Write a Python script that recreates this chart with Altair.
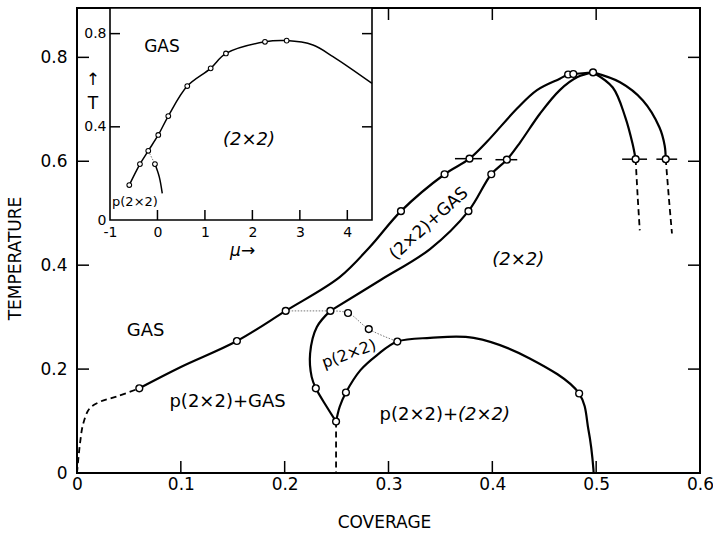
import altair as alt
import pandas as pd

FONT = "DejaVu Sans"

# ---------------- main diagram: coverage vs temperature ----------------
gas_dash_cov = [0.0, 0.0029, 0.006, 0.012, 0.022, 0.038, 0.060]
gas_dash_T = [0.0, 0.057, 0.095, 0.124, 0.137, 0.147, 0.163]

upper_cov = [0.060, 0.100, 0.154, 0.201, 0.253, 0.282, 0.312, 0.354, 0.378, 0.395,
             0.424, 0.443, 0.465, 0.473, 0.478, 0.497]
upper_T = [0.163, 0.204, 0.254, 0.312, 0.377, 0.435, 0.504, 0.575, 0.605, 0.638,
           0.702, 0.737, 0.759, 0.767, 0.768, 0.771]

lower_cov = [0.244, 0.292, 0.340, 0.377, 0.399, 0.414, 0.427, 0.446, 0.465, 0.482, 0.497]
lower_T = [0.312, 0.371, 0.431, 0.504, 0.575, 0.603, 0.637, 0.692, 0.737, 0.762, 0.771]

lobe_left_cov = [0.244, 0.231, 0.2245, 0.226, 0.230, 0.2405, 0.2495]
lobe_left_T = [0.312, 0.281, 0.230, 0.185, 0.163, 0.1275, 0.099]

lobe_dash_cov = [0.2495, 0.2495]
lobe_dash_T = [0.099, 0.0]

dome_cov = [0.2495, 0.253, 0.259, 0.273, 0.289, 0.3085, 0.340, 0.382, 0.436, 0.4836,
            0.4926, 0.4974, 0.4975]
dome_T = [0.099, 0.1275, 0.155, 0.198, 0.227, 0.253, 0.260, 0.260, 0.2205, 0.153,
          0.0827, 0.006, 0.0]

inner_cov = [0.497, 0.516, 0.528, 0.535, 0.538]
inner_T = [0.771, 0.742, 0.685, 0.634, 0.604]
inner_dash_cov = [0.538, 0.540, 0.542]
inner_dash_T = [0.604, 0.531, 0.467]

outer_cov = [0.497, 0.523, 0.545, 0.561, 0.566, 0.567]
outer_T = [0.771, 0.752, 0.717, 0.665, 0.630, 0.604]
outer_dash_cov = [0.567, 0.570, 0.573]
outer_dash_T = [0.604, 0.530, 0.461]

dot_a_cov = [0.201, 0.244]
dot_a_T = [0.312, 0.312]
dot_b_cov = [0.244, 0.261, 0.281, 0.3085]
dot_b_T = [0.312, 0.308, 0.277, 0.253]

pts_cov = [0.060, 0.154, 0.201, 0.244, 0.261, 0.281, 0.3085, 0.230, 0.2495, 0.259,
           0.4836, 0.312, 0.354, 0.378, 0.377, 0.399, 0.414, 0.473, 0.478, 0.497,
           0.538, 0.567]
pts_T = [0.163, 0.254, 0.312, 0.312, 0.308, 0.277, 0.253, 0.163, 0.099, 0.155,
         0.153, 0.504, 0.575, 0.605, 0.504, 0.575, 0.603, 0.767, 0.768, 0.771,
         0.604, 0.604]

bar_T = [0.605, 0.603, 0.604, 0.604]
bar_lo = [0.364, 0.403, 0.525, 0.558]
bar_hi = [0.390, 0.424, 0.549, 0.578]

main_xticks_bottom = [0.1, 0.2, 0.3, 0.4, 0.5]
main_xticks_top = [0.3, 0.4, 0.5]
main_yticks = [0.2, 0.4, 0.6, 0.8]
main_xlabels = [0, 0.1, 0.2, 0.3, 0.4, 0.5, 0.6]
main_ylabels = [0, 0.2, 0.4, 0.6, 0.8]

# region labels
txt_plain = ["GAS", "p(2×2)+GAS"]
txt_plain_cov = [0.066, 0.145]
txt_plain_T = [0.273, 0.137]
txt_mix_a = ["p(2×2)+"]
txt_mix_b = ["(2×2)"]
txt_mix_cov = [0.367]
txt_mix_T = [0.1115]
txt_ital = ["(2×2)"]
txt_ital_cov = [0.425]
txt_ital_T = [0.41]
txt_band = ["(2×2)+GAS"]
txt_band_cov = [0.339]
txt_band_T = [0.480]
txt_lobe = ["p(2×2)"]
txt_lobe_cov = [0.262]
txt_lobe_T = [0.229]

# ---------------- inset: chemical potential vs temperature ----------------
in_curve_mu = [-0.594, -0.369, -0.194, 0.017, 0.228, 0.628, 1.121, 1.443, 2.265, 2.722,
               3.276, 3.698, 4.52]
in_curve_T = [0.150, 0.240, 0.297, 0.365, 0.446, 0.575, 0.651, 0.715, 0.765, 0.770,
              0.751, 0.701, 0.586]
in_branch_mu = [-0.053, 0.038, 0.101]
in_branch_T = [0.240, 0.185, 0.114]
in_dot_mu = [-0.194, -0.053]
in_dot_T = [0.297, 0.240]
in_pts_mu = [-0.594, -0.369, -0.194, 0.017, 0.228, 0.628, 1.121, 1.443, 2.265, 2.722, -0.053]
in_pts_T = [0.150, 0.240, 0.297, 0.365, 0.446, 0.575, 0.651, 0.715, 0.765, 0.770, 0.240]

in_xticks = [0, 1, 2, 3, 4]
in_yticks = [0.4, 0.8]
in_xlabels = [-1, 0, 1, 2, 3, 4]
in_ylabels = [0, 0.4, 0.8]
in_frame = dict(x0=[-1.0], x1=[4.52], y0=[0.0], y1=[0.91])

in_txt_plain = ["GAS"]
in_txt_plain_mu = [0.095]
in_txt_plain_T = [0.742]
in_txt_ital = ["(2×2)"]
in_txt_ital_mu = [1.93]
in_txt_ital_T = [0.343]
in_txt_small = ["p(2×2)"]
in_txt_small_mu = [-0.474]
in_txt_small_T = [0.077]
in_txt_arrow = ["↑", "T"]
in_txt_arrow_mu = [-1.36, -1.36]
in_txt_arrow_T = [0.60, 0.50]
in_txt_mu = ["μ→"]
in_txt_mu_mu = [1.53]
in_txt_mu_T = [-0.135]

# ---------------- geometry ----------------
W, H = 623, 465
TICK = 12
IN_XR = [33, 295]
IN_YR = [212, 0]
IN_TICK = 10

# ---------------- tables ----------------
def seg_rows(name, style, xs, ys):
    return [dict(seg=name, style=style, i=k, x=a, y=b) for k, (a, b) in enumerate(zip(xs, ys))]

main_lines = pd.DataFrame(
    seg_rows("gasd", "dash", gas_dash_cov, gas_dash_T)
    + seg_rows("up", "solid", upper_cov, upper_T)
    + seg_rows("low", "solid", lower_cov, lower_T)
    + seg_rows("lobl", "solid", lobe_left_cov, lobe_left_T)
    + seg_rows("lobd", "dash", lobe_dash_cov, lobe_dash_T)
    + seg_rows("dome", "solid", dome_cov, dome_T)
    + seg_rows("inn", "solid", inner_cov, inner_T)
    + seg_rows("innd", "dash", inner_dash_cov, inner_dash_T)
    + seg_rows("out", "solid", outer_cov, outer_T)
    + seg_rows("outd", "dash", outer_dash_cov, outer_dash_T)
    + seg_rows("dota", "dot", dot_a_cov, dot_a_T)
    + seg_rows("dotb", "dot", dot_b_cov, dot_b_T)
)
main_pts = pd.DataFrame(dict(x=pts_cov, y=pts_T))
bars = pd.DataFrame(dict(lo=bar_lo, hi=bar_hi, y=bar_T))

in_lines = pd.DataFrame(
    seg_rows("c", "solid", in_curve_mu, in_curve_T)
    + seg_rows("b", "solid", in_branch_mu, in_branch_T)
    + seg_rows("d", "dot", in_dot_mu, in_dot_T)
)
in_pts = pd.DataFrame(dict(x=in_pts_mu, y=in_pts_T))

# ---------------- scales / axes ----------------
fmt1 = "datum.value == 0 ? '0' : format(datum.value, '.1f')"
XS = alt.Scale(domain=[0, 0.6], nice=False, zero=False)
YS = alt.Scale(domain=[0, 0.895], nice=False, zero=False)
XA = alt.Axis(values=main_xlabels, labelExpr=fmt1, ticks=False, domain=False, grid=False,
              labelPadding=3, labelFontSize=17, labelFont=FONT, labelColor="black",
              labelFlush=False, title="COVERAGE", titleFont=FONT, titleFontSize=17,
              titleFontWeight="normal", titleColor="black", titleX=307, titleY=49,
              titleBaseline="middle", titleAlign="center")
YA = alt.Axis(values=main_ylabels, labelExpr=fmt1, ticks=False, domain=False, grid=False,
              labelPadding=10, labelFontSize=17, labelFont=FONT, labelColor="black",
              labelFlush=False, title="TEMPERATURE", titleFont=FONT, titleFontSize=17,
              titleFontWeight="normal", titleColor="black", titleX=-62, titleY=250,
              titleAngle=270, titleBaseline="middle", titleAlign="center")


def mx(f):
    return alt.X(f, type="quantitative", scale=XS, axis=XA)


def my(f):
    return alt.Y(f, type="quantitative", scale=YS, axis=YA)


IXS = alt.Scale(domain=[-1, 4.52], range=IN_XR, nice=False, zero=False)
IYS = alt.Scale(domain=[0, 0.91], range=IN_YR, nice=False, zero=False)
IXA = alt.Axis(orient="bottom", offset=-(H - IN_YR[0]), values=in_xlabels,
               labelExpr="datum.value < 0 ? '-' + format(-datum.value, 'd') : format(datum.value, 'd')",
               ticks=False, domain=False, grid=False, labelPadding=5, labelFontSize=14,
               labelFont=FONT, labelColor="black", labelFlush=False, title=None)
IYA = alt.Axis(orient="left", offset=-IN_XR[0], values=in_ylabels, labelExpr=fmt1,
               ticks=False, domain=False, grid=False, labelPadding=4, labelFontSize=14,
               labelFont=FONT, labelColor="black", labelFlush=False, title=None)


def ix(f):
    return alt.X(f, type="quantitative", scale=IXS, axis=IXA)


def iy(f):
    return alt.Y(f, type="quantitative", scale=IYS, axis=IYA)


def txt_df(t, x, y):
    return pd.DataFrame(dict(t=t, x=x, y=y))


# ---------------- main layers ----------------
base = alt.Chart(main_lines)
m_solid = base.transform_filter("datum.style == 'solid'").mark_line(
    interpolate="catmull-rom", strokeWidth=2.2, color="black").encode(
    x=mx("x"), y=my("y"), detail="seg:N", order="i:Q")
m_dash = base.transform_filter("datum.style == 'dash'").mark_line(
    interpolate="catmull-rom", strokeWidth=1.8, color="black", strokeDash=[6, 4]).encode(
    x=mx("x"), y=my("y"), detail="seg:N", order="i:Q")
m_dot = base.transform_filter("datum.style == 'dot'").mark_line(
    interpolate="catmull-rom", strokeWidth=0.9, color="#666666", strokeDash=[1.5, 1.5]).encode(
    x=mx("x"), y=my("y"), detail="seg:N", order="i:Q")
m_bars = alt.Chart(bars).mark_rule(strokeWidth=1.5, color="black").encode(
    x=mx("lo"), x2="hi", y=my("y"))
m_pts = alt.Chart(main_pts).mark_point(shape="circle", filled=True, fill="white",
                                       stroke="black", strokeWidth=1.4, size=46,
                                       opacity=1).encode(x=mx("x"), y=my("y"))

yt = pd.DataFrame(dict(v=main_yticks))
xb = pd.DataFrame(dict(v=main_xticks_bottom))
xt = pd.DataFrame(dict(v=main_xticks_top))
tk = dict(strokeWidth=1.5, color="black")
m_tl = alt.Chart(yt).mark_rule(**tk).encode(y=my("v"), x=alt.value(0), x2=alt.value(TICK))
m_tr = alt.Chart(yt).mark_rule(**tk).encode(y=my("v"), x=alt.value(W - TICK), x2=alt.value(W))
m_tb = alt.Chart(xb).mark_rule(**tk).encode(x=mx("v"), y=alt.value(H), y2=alt.value(H - TICK))
m_tt = alt.Chart(xt).mark_rule(**tk).encode(x=mx("v"), y=alt.value(0), y2=alt.value(TICK))

tstyle = dict(font=FONT, color="black", baseline="middle")
m_t1 = alt.Chart(txt_df(txt_plain, txt_plain_cov, txt_plain_T)).mark_text(
    fontSize=18, align="center", **tstyle).encode(x=mx("x"), y=my("y"), text="t:N")
m_t2 = alt.Chart(txt_df(txt_mix_a, txt_mix_cov, txt_mix_T)).mark_text(
    fontSize=18, align="right", **tstyle).encode(x=mx("x"), y=my("y"), text="t:N")
m_t3 = alt.Chart(txt_df(txt_mix_b, txt_mix_cov, txt_mix_T)).mark_text(
    fontSize=18, align="left", fontStyle="italic", **tstyle).encode(x=mx("x"), y=my("y"), text="t:N")
m_t4 = alt.Chart(txt_df(txt_ital, txt_ital_cov, txt_ital_T)).mark_text(
    fontSize=18, align="center", fontStyle="italic", **tstyle).encode(x=mx("x"), y=my("y"), text="t:N")
m_t5 = alt.Chart(txt_df(txt_band, txt_band_cov, txt_band_T)).mark_text(
    fontSize=17, align="center", angle=318, **tstyle).encode(x=mx("x"), y=my("y"), text="t:N")
m_t6 = alt.Chart(txt_df(txt_lobe, txt_lobe_cov, txt_lobe_T)).mark_text(
    fontSize=16, align="center", angle=340, **tstyle).encode(x=mx("x"), y=my("y"), text="t:N")

main = alt.layer(m_solid, m_dash, m_dot, m_bars, m_pts, m_tl, m_tr, m_tb, m_tt,
                 m_t1, m_t2, m_t3, m_t4, m_t5, m_t6)

# ---------------- inset layers ----------------
i_frame = alt.Chart(pd.DataFrame(in_frame)).mark_rect(
    fill="white", stroke="black", strokeWidth=1.6).encode(
    x=ix("x0"), x2="x1", y=iy("y0"), y2="y1")
ibase = alt.Chart(in_lines)
i_solid = ibase.transform_filter("datum.style == 'solid'").mark_line(
    interpolate="catmull-rom", strokeWidth=1.5, color="black").encode(
    x=ix("x"), y=iy("y"), detail="seg:N", order="i:Q")
i_dot = ibase.transform_filter("datum.style == 'dot'").mark_line(
    strokeWidth=0.9, color="#666666", strokeDash=[1.5, 1.5]).encode(
    x=ix("x"), y=iy("y"), detail="seg:N", order="i:Q")
i_pts = alt.Chart(in_pts).mark_point(shape="circle", filled=True, fill="white",
                                     stroke="black", strokeWidth=1.1, size=22,
                                     opacity=1).encode(x=ix("x"), y=iy("y"))
ixt = pd.DataFrame(dict(v=in_xticks))
iyt = pd.DataFrame(dict(v=in_yticks))
i_tb = alt.Chart(ixt).mark_rule(**tk).encode(
    x=ix("v"), y=alt.value(IN_YR[0]), y2=alt.value(IN_YR[0] - IN_TICK))
i_tl = alt.Chart(iyt).mark_rule(**tk).encode(
    y=iy("v"), x=alt.value(IN_XR[0]), x2=alt.value(IN_XR[0] + IN_TICK))
i_tr = alt.Chart(iyt).mark_rule(**tk).encode(
    y=iy("v"), x=alt.value(IN_XR[1] - IN_TICK), x2=alt.value(IN_XR[1]))
i_t1 = alt.Chart(txt_df(in_txt_plain, in_txt_plain_mu, in_txt_plain_T)).mark_text(
    fontSize=17, align="center", **tstyle).encode(x=ix("x"), y=iy("y"), text="t:N")
i_t2 = alt.Chart(txt_df(in_txt_ital, in_txt_ital_mu, in_txt_ital_T)).mark_text(
    fontSize=18, align="center", fontStyle="italic", **tstyle).encode(x=ix("x"), y=iy("y"), text="t:N")
i_t3 = alt.Chart(txt_df(in_txt_small, in_txt_small_mu, in_txt_small_T)).mark_text(
    fontSize=13, align="center", **tstyle).encode(x=ix("x"), y=iy("y"), text="t:N")
i_t4 = alt.Chart(txt_df(in_txt_arrow, in_txt_arrow_mu, in_txt_arrow_T)).mark_text(
    fontSize=17, align="center", **tstyle).encode(x=ix("x"), y=iy("y"), text="t:N")
i_t5 = alt.Chart(txt_df(in_txt_mu, in_txt_mu_mu, in_txt_mu_T)).mark_text(
    fontSize=17, align="left", fontStyle="italic", **tstyle).encode(x=ix("x"), y=iy("y"), text="t:N")

inset = alt.layer(i_frame, i_solid, i_dot, i_pts, i_tb, i_tl, i_tr, i_t1, i_t2, i_t3, i_t4, i_t5)

chart = alt.layer(main, inset).resolve_scale(x="independent", y="independent").properties(
    width=W, height=H,
    padding={"left": 77, "top": 8, "right": 13, "bottom": 60},
    autosize=alt.AutoSizeParams(type="none"),
    background="white",
).configure_view(stroke="black", strokeWidth=2)

chart.save("out.html", embed_options={"renderer": "svg", "actions": False})
